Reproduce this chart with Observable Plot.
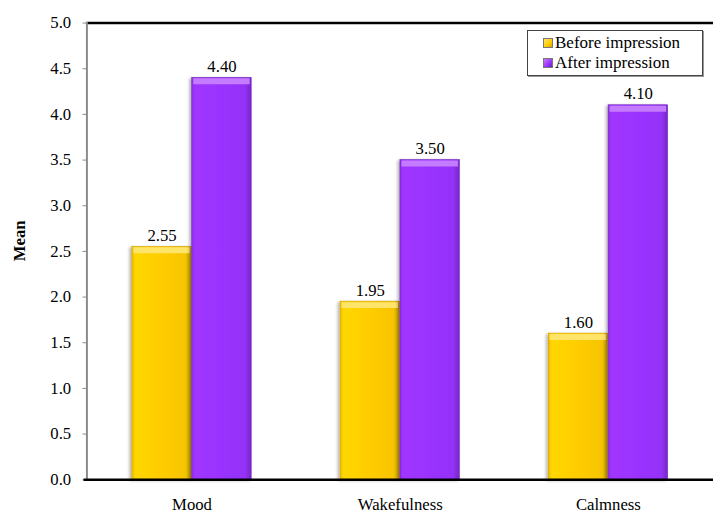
<!DOCTYPE html>
<html>
<head>
<meta charset="utf-8">
<script src="https://cdn.jsdelivr.net/npm/d3@7"></script>
<script src="https://cdn.jsdelivr.net/npm/@observablehq/plot@0.6"></script>
<style>
  html, body { margin: 0; padding: 0; background: #fff; overflow: hidden; }
  #wrap { position: relative; width: 713px; height: 523px; overflow: hidden; }
  #legend {
    position: absolute; left: 527px; top: 30px; width: 176px; height: 46px;
    border: 1px solid #444; box-shadow: 1px 1px 0 #999; background: #fff;
    font-family: "Liberation Serif", "Times New Roman", serif; font-size: 17px; line-height: 20px;
    padding-top: 2px; box-sizing: border-box;
  }
  #legend .item { display: flex; align-items: center; padding-left: 15px; white-space: nowrap; }
  #legend .sw { width: 8px; height: 8px; margin-right: 2px; border: 0.5px solid #777; }
</style>
</head>
<body>
<div id="wrap"><div id="legend"></div></div>
<script>
// Mean ratings before and after the impression, per dimension
const categories = ["Mood", "Wakefulness", "Calmness"];
const series = ["Before impression", "After impression"];
const beforeValues = [2.55, 1.95, 1.60];
const afterValues = [4.40, 3.50, 4.10];
const yTicks = [0, 0.5, 1, 1.5, 2, 2.5, 3, 3.5, 4, 4.5, 5];

const baseColors = ["#FFCC00", "#9933FF"];
const bevelColors = ["#FFE46A", "#C57BFF"];
const edgeColors = ["#D6A200", "#6E20B8"];

const rows = categories.flatMap((c, i) => [
  {category: c, series: series[0], value: beforeValues[i]},
  {category: c, series: series[1], value: afterValues[i]}
]);

const font = "Liberation Serif, Times New Roman, serif";
const step = 212.5;          // width of one category band
const barW = 61;             // width of one bar
const half = barW / 2;
const inset = (step - barW) / 2;

// one series: face, top bevel, value label
function seriesMarks(s) {
  const data = rows.filter(d => d.series === series[s]);
  const shift = s === 0 ? -half : half;
  return [
    Plot.barY(data, {
      x: "category", y: "value", fill: "series",
      stroke: edgeColors[s], strokeWidth: 0.6,
      insetLeft: inset, insetRight: inset, dx: shift
    }),
    Plot.tickY(data, {
      x: "category", y: "value",
      stroke: bevelColors[s], strokeWidth: 6, dy: 3.5,
      insetLeft: inset + 1.5, insetRight: inset + 1.5, dx: shift
    }),
    Plot.text(data, {
      x: "category", y: "value", text: d => d.value.toFixed(2),
      dx: shift, dy: -6, lineAnchor: "bottom",
      fontSize: 17, fontFamily: font, fill: "#000"
    })
  ];
}

const chart = Plot.plot({
  width: 726,
  height: 523,
  marginLeft: 88,
  marginRight: 0,
  marginTop: 23,
  marginBottom: 35,
  style: {fontFamily: font, fontSize: "17px", background: "transparent", color: "#000"},
  x: {domain: categories, paddingInner: 0, paddingOuter: 0, label: null},
  y: {domain: [0, 5], label: null},
  color: {domain: series, range: ["url(#gradBefore)", "url(#gradAfter)"], legend: false},
  marks: [
    Plot.ruleY([5], {stroke: "#000", strokeWidth: 2.5}),
    Plot.frame({anchor: "left", stroke: "#8a8a8a", strokeWidth: 2}),
    Plot.axisY(yTicks, {
      tickFormat: d3.format(".1f"), tickSize: 4, tickPadding: 12,
      stroke: "#8a8a8a", fill: "#000", fontSize: 17, fontFamily: font
    }),
    Plot.axisX({tickSize: 0, tickPadding: 19, fontSize: 17, fontFamily: font, fill: "#000"}),
    ...seriesMarks(0),
    ...seriesMarks(1),
    Plot.ruleY([0], {stroke: "#000", strokeWidth: 2.5, insetLeft: -3}),
    Plot.text(["Mean"], {
      frameAnchor: "left", dx: -68, dy: 10, rotate: -90,
      fontWeight: "bold", fontSize: 17, fontFamily: font, text: d => d
    })
  ]
});

// gradients for the bevelled bar faces, and a soft shadow behind them
const defs = d3.select(chart).insert("defs", ":first-child");
[["gradBefore", 0], ["gradAfter", 1]].forEach(([id, i]) => {
  const base = d3.color(baseColors[i]);
  const g = defs.append("linearGradient").attr("id", id).attr("x1", 0).attr("x2", 1).attr("y1", 0).attr("y2", 0);
  g.append("stop").attr("offset", 0).attr("stop-color", base.darker(0.25));
  g.append("stop").attr("offset", 0.06).attr("stop-color", base.brighter(0.15));
  g.append("stop").attr("offset", 0.5).attr("stop-color", base);
  g.append("stop").attr("offset", 0.9).attr("stop-color", base.darker(0.1));
  g.append("stop").attr("offset", 1).attr("stop-color", base.darker(0.7));
});
const shadow = defs.append("filter").attr("id", "barShadow")
  .attr("x", "-20%").attr("y", "-5%").attr("width", "140%").attr("height", "110%");
shadow.append("feDropShadow").attr("dx", -2).attr("dy", 1).attr("stdDeviation", 1.8)
  .attr("flood-color", "#000").attr("flood-opacity", 0.3);
d3.select(chart).selectAll("rect")
  .filter(function () { return (this.getAttribute("fill") || "").startsWith("url("); })
  .attr("filter", "url(#barShadow)");

document.getElementById("wrap").prepend(chart);

// legend
const legend = d3.select("#legend");
series.forEach((s, i) => {
  const item = legend.append("div").attr("class", "item");
  item.append("span").attr("class", "sw")
    .style("background", `linear-gradient(135deg, ${bevelColors[i]}, ${baseColors[i]} 60%, ${edgeColors[i]})`);
  item.append("span").text(s);
});
</script>
</body>
</html>
